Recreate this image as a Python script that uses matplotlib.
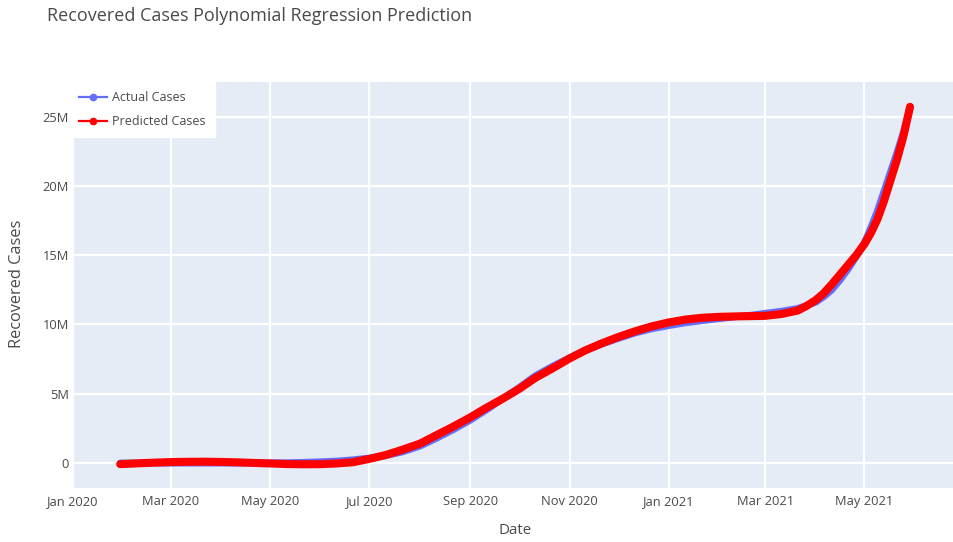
import matplotlib
matplotlib.use("Agg")
import matplotlib.pyplot as plt
import matplotlib.dates as mdates
from matplotlib.lines import Line2D
import pandas as pd

# Observation dates (about every ten days, closer together during the 2021 surge)
dates = [
    "2020-01-30", "2020-02-10", "2020-02-20", "2020-03-01", "2020-03-11", "2020-03-21",
    "2020-04-01", "2020-04-11", "2020-04-21", "2020-05-01", "2020-05-11", "2020-05-21",
    "2020-06-01", "2020-06-11", "2020-06-21", "2020-07-01", "2020-07-11", "2020-07-21",
    "2020-08-01", "2020-08-11", "2020-08-21", "2020-09-01", "2020-09-11", "2020-09-21",
    "2020-10-01", "2020-10-11", "2020-10-21", "2020-11-01", "2020-11-11", "2020-11-21",
    "2020-12-01", "2020-12-11", "2020-12-21", "2021-01-01", "2021-01-11", "2021-01-21",
    "2021-02-01", "2021-02-11", "2021-02-21", "2021-03-01", "2021-03-11", "2021-03-21",
    "2021-03-26", "2021-04-01", "2021-04-06", "2021-04-11", "2021-04-16", "2021-04-21",
    "2021-04-26", "2021-05-01", "2021-05-05", "2021-05-09", "2021-05-13", "2021-05-17",
    "2021-05-21", "2021-05-25", "2021-05-29",
]

# Cumulative recovered cases, in millions
actual_cases = [
    0.0, 0.0, 0.0, 0.0, 0.0, 0.0,
    0.0002, 0.0008, 0.004, 0.009, 0.02, 0.045,
    0.09, 0.14, 0.23, 0.36, 0.54, 0.80,
    1.22, 1.78, 2.38, 3.1, 3.85, 4.65,
    5.45, 6.3, 6.95, 7.6, 8.15, 8.6,
    9.0, 9.38, 9.68, 9.92, 10.12, 10.27,
    10.42, 10.56, 10.67, 10.8, 10.95, 11.15,
    11.35, 11.6, 12.0, 12.5, 13.2, 14.0,
    14.9, 15.9, 17.0, 18.2, 19.6, 21.0,
    22.4, 23.9, 25.6,
]

# Polynomial regression fit, in millions
predicted_cases = [
    -0.08, -0.02, 0.03, 0.07, 0.09, 0.10,
    0.08, 0.05, 0.01, -0.03, -0.07, -0.09,
    -0.08, -0.03, 0.06, 0.30, 0.58, 0.95,
    1.4, 2.0, 2.6, 3.3, 4.0, 4.65,
    5.35, 6.15, 6.8, 7.55, 8.15, 8.65,
    9.1, 9.5, 9.85, 10.15, 10.35, 10.48,
    10.55, 10.58, 10.6, 10.62, 10.75, 11.0,
    11.3, 11.75, 12.25, 12.9, 13.6, 14.3,
    15.0, 15.8, 16.6, 17.6, 18.9, 20.4,
    21.9, 23.6, 25.7,
]

y_ticks = [0, 5, 10, 15, 20, 25]
y_tick_labels = ["0", "5M", "10M", "15M", "20M", "25M"]

x = pd.to_datetime(dates)
actual = [v * 1e6 for v in actual_cases]
predicted = [v * 1e6 for v in predicted_cases]

BLUE = "#636EFA"
RED = "#FF0000"
TEXT = "#4a4a4a"
BG = "#E5ECF6"

plt.rcParams["font.family"] = ["Open Sans", "DejaVu Sans"]

W, H = 954, 542
fig = plt.figure(figsize=(W / 100, H / 100), dpi=100)
ax = fig.add_axes([73 / W, 1 - 488 / H, (W - 73) / W, (488 - 82) / H])
ax.set_facecolor(BG)
for s in ax.spines.values():
    s.set_visible(False)

ax.plot(x, actual, color=BLUE, lw=5.0, solid_capstyle="round", solid_joinstyle="round", zorder=3)
ax.plot(x, predicted, color=RED, lw=5.8, solid_capstyle="round", solid_joinstyle="round", zorder=4)

ax.set_xlim(pd.Timestamp("2020-01-01"), pd.Timestamp("2021-06-25"))
ax.set_ylim(-1.80e6, 27.49e6)

ax.xaxis.set_major_locator(mdates.MonthLocator(bymonth=[1, 3, 5, 7, 9, 11]))
ax.xaxis.set_major_formatter(mdates.DateFormatter("%b %Y"))
ax.set_yticks([t * 1e6 for t in y_ticks])
ax.set_yticklabels(y_tick_labels)

ax.grid(True, color="white", lw=1.6, zorder=0)
ax.set_axisbelow(True)
ax.tick_params(axis="both", length=0, labelsize=9.3, colors=TEXT)
ax.tick_params(axis="x", pad=5)
ax.tick_params(axis="y", pad=3)

fig.text(47 / W, 1 - 16 / H, "Recovered Cases Polynomial Regression Prediction",
         fontsize=13, color=TEXT, ha="left", va="center")
fig.text(17 / W, 1 - 284 / H, "Recovered Cases", rotation=90, fontsize=11.8,
         color=TEXT, ha="center", va="center")
fig.text(515 / W, 1 - 531 / H, "Date", fontsize=10.8, color=TEXT, ha="center", va="center")

handles = [
    Line2D([0], [0], color=BLUE, lw=1.6, marker="o", markersize=4.5),
    Line2D([0], [0], color=RED, lw=1.6, marker="o", markersize=4.5),
]
leg = fig.legend(handles, ["Actual Cases", "Predicted Cases"],
                 loc="upper left", bbox_to_anchor=(70 / W, 1 - 82 / H),
                 fontsize=9, frameon=True, fancybox=False, framealpha=1,
                 facecolor="white", edgecolor="white", handlelength=2.2,
                 handletextpad=0.45, labelspacing=0.85, borderpad=0.75,
                 borderaxespad=0)
for t in leg.get_texts():
    t.set_color(TEXT)

fig.savefig("out.png", dpi=100, facecolor="white")
